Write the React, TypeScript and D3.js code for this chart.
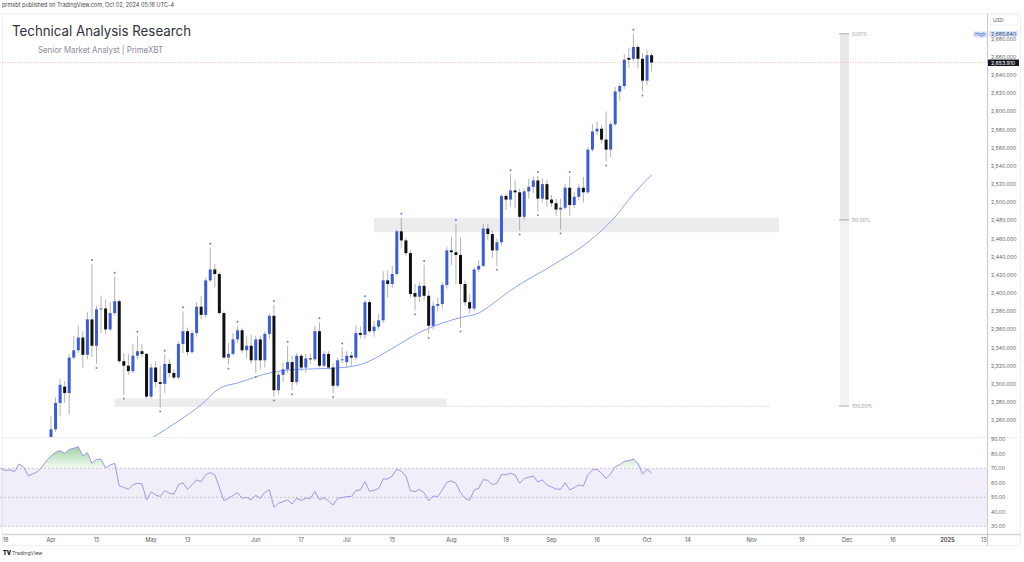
import React from "react";
import * as d3 from "d3";

// ---------- DATA (XAUUSD daily) ----------
const FIRST_CANDLE = "2024-04-01";
const opens = [2233,2250,2279,2297,2290,2329,2337,2351,2332,2371,2342,2382,2383,2360,2378,2391,2325,2320,2314,2331,2336,2333,2286,2318,2302,2300,2322,2312,2307,2344,2358,2335,2356,2385,2376,2414,2426,2421,2378,2329,2333,2349,2359,2337,2342,2326,2349,2326,2355,2375,2293,2310,2316,2324,2302,2331,2318,2328,2327,2358,2320,2333,2318,2298,2326,2324,2331,2329,2356,2354,2390,2358,2363,2370,2414,2410,2421,2468,2458,2444,2400,2396,2408,2397,2364,2386,2388,2409,2447,2445,2442,2410,2390,2383,2426,2430,2471,2465,2447,2456,2507,2503,2513,2511,2484,2512,2517,2524,2504,2520,2503,2499,2492,2494,2516,2497,2506,2516,2511,2558,2578,2581,2569,2558,2586,2622,2628,2659,2658,2671,2658,2634,2662];
const highs = [2265,2285,2305,2303,2333,2353,2364,2358,2379,2432,2386,2397,2393,2390,2418,2393,2334,2333,2344,2353,2344,2334,2322,2325,2320,2332,2327,2316,2347,2380,2362,2359,2390,2397,2417,2450,2432,2423,2380,2345,2356,2364,2362,2352,2354,2353,2353,2358,2378,2387,2313,2323,2342,2331,2334,2333,2333,2333,2364,2368,2336,2336,2323,2329,2340,2336,2335,2364,2363,2392,2393,2369,2377,2424,2425,2430,2470,2483,2461,2447,2410,2412,2431,2403,2391,2395,2412,2451,2462,2476,2461,2414,2399,2428,2436,2476,2476,2469,2460,2509,2510,2531,2524,2515,2515,2526,2528,2529,2526,2525,2508,2504,2504,2520,2529,2511,2520,2528,2561,2586,2589,2585,2600,2589,2627,2631,2663,2670,2685.64,2673,2664,2668,2664];
const lows = [2228,2247,2265,2279,2266,2327,2334,2318,2327,2330,2322,2356,2355,2358,2375,2323,2288,2310,2312,2327,2329,2284,2284,2296,2274,2290,2307,2305,2305,2334,2331,2333,2352,2371,2373,2412,2406,2376,2327,2321,2331,2345,2334,2328,2322,2312,2316,2318,2350,2286,2289,2302,2312,2293,2299,2314,2312,2322,2325,2318,2318,2316,2290,2296,2323,2318,2320,2326,2350,2350,2356,2352,2360,2367,2395,2406,2419,2450,2441,2395,2381,2390,2392,2355,2360,2380,2383,2405,2431,2410,2362,2386,2378,2380,2423,2428,2458,2439,2430,2452,2492,2495,2493,2469,2480,2504,2510,2490,2500,2495,2495,2485,2470,2492,2485,2494,2502,2500,2509,2556,2574,2565,2545,2550,2584,2612,2625,2648,2655,2648,2622,2629,2644];
const closes = [2250,2279,2299,2290,2329,2337,2351,2332,2371,2342,2382,2383,2360,2378,2391,2325,2320,2314,2331,2336,2333,2286,2318,2302,2300,2322,2312,2307,2344,2358,2335,2356,2385,2376,2414,2426,2421,2378,2329,2333,2349,2359,2337,2342,2326,2349,2326,2355,2375,2293,2310,2316,2324,2302,2331,2318,2328,2327,2358,2320,2333,2318,2298,2326,2327,2331,2329,2356,2354,2390,2358,2363,2370,2414,2410,2421,2468,2458,2444,2399,2396,2408,2397,2364,2386,2388,2409,2447,2445,2442,2410,2390,2383,2426,2430,2471,2465,2447,2456,2507,2503,2513,2511,2484,2512,2517,2524,2504,2520,2503,2499,2492,2494,2516,2497,2506,2516,2511,2558,2578,2581,2569,2558,2586,2622,2628,2657,2657,2671,2658,2634,2662,2653.91];

// swing markers (candle index from FIRST_CANDLE)
const highMarks = [9,14,19,25,29,35,41,49,52,59,64,69,77,82,89,101,107,114,128];
const lowMarks = [10,16,24,39,45,49,53,62,80,83,90,98,103,107,112,122,130];

// moving average, read at candle indices
const maIdx = [22,28,33,37,41,48,54,61,67,76,80,86,90,94,97,101,110,118,124,128,132];
const maVal = [2240,2259,2277,2295,2301,2312,2316,2317,2320,2342,2354,2367,2373,2378,2388,2403,2430,2456,2484,2509,2530];

// RSI, one value per trading day starting here
const RSI_START = "2024-03-15";
const rsi = [70.0,68.4,68.9,67.7,73.0,70.7,64.9,66.1,67.5,70.7,75.3,
78.5,81.0,82.2,80.3,82.9,83.8,84.9,78.5,80.8,73.4,76.2,76.2,70.2,72.3,73.4,57.8,56.9,55.5,58.5,59.7,59.2,48.2,53.7,51.6,50.5,54.6,52.8,52.1,58.5,60.1,55.5,58.7,62.0,60.8,65.6,67.0,65.6,56.9,47.7,49.3,51.4,53.2,49.3,50.0,48.2,51.4,49.3,53.4,55.1,43.1,45.9,47.0,48.2,45.4,49.3,47.9,49.3,49.3,54.1,48.2,49.8,47.5,44.7,49.3,49.8,50.5,50.5,54.6,55.1,60.8,54.1,54.8,56.0,62.6,62.6,64.7,69.5,67.9,64.7,54.6,53.9,55.5,53.2,47.5,50.9,50.5,55.1,60.3,61.3,59.7,53.2,49.3,47.9,55.1,56.2,62.2,61.7,58.7,59.7,65.6,65.6,66.5,65.4,59.7,62.9,63.8,64.7,60.6,62.0,58.5,57.1,55.7,55.5,60.1,55.1,56.7,58.5,57.8,65.4,68.9,69.3,66.6,62.9,66.1,71.1,72.5,74.8,75.3,76.4,73.4,65.9,69.5,66.6];

// zones & fib
const zoneTop = { from: 71, to: 160, hi: 2483, lo: 2467 };
const zoneLow = { from: 14, to: 87, hi: 2284, lo: 2275.5 };
const fibHigh = 2685.64;
const fibLow = 2275.5;
const fibLevels = [0, 0.5, 1];
const fibLabels = ["0.00%", "50.00%", "100.00%"];

// axis ticks
const priceTicks = d3.range(2260, 2681, 20);
const rsiTicks = [90, 80, 70, 60, 50, 40, 30];
const timeTicks: [string, string][] = [
  ["2024-03-18", "18"], ["2024-04-01", "Apr"], ["2024-04-15", "15"], ["2024-05-01", "May"],
  ["2024-05-13", "13"], ["2024-06-03", "Jun"], ["2024-06-17", "17"], ["2024-07-01", "Jul"],
  ["2024-07-15", "15"], ["2024-08-01", "Aug"], ["2024-08-19", "19"], ["2024-09-02", "Sep"],
  ["2024-09-16", "16"], ["2024-10-01", "Oct"], ["2024-10-14", "14"], ["2024-11-01", "Nov"],
  ["2024-11-18", "18"], ["2024-12-02", "Dec"], ["2024-12-16", "16"], ["2025-01-01", "2025"],
  ["2025-01-13", "13"],
];

// ---------- helpers ----------
const parse = d3.timeParse("%Y-%m-%d");
const START = parse(FIRST_CANDLE) as Date;
function wdIndex(s: string): number {
  const d = parse(s) as Date;
  const a = d < START ? d : START;
  const b = d < START ? START : d;
  const n = d3.timeDay.range(a, b).filter((x) => x.getDay() !== 0 && x.getDay() !== 6).length;
  return d < START ? -n : n;
}

const W = 1024, H = 562;
const AXIS_X = 987;
const PANE_TOP = 14, PANE_BOT = 437;
const RSI_BOT = 534;

const x = d3.scaleLinear().domain([0, 132]).range([51, 51 + 132 * 4.55]);
const y = d3.scaleLinear().domain([2260, 2660]).range([420.2, 57]);
const yr = d3.scaleLinear().domain([30, 90]).range([526.3, 439.3]);

const fmt = d3.format(",.3f");
const FONT = "Inter, 'Liberation Sans', sans-serif";

export default function App() {
  const bw = 3;
  const rsiStart = wdIndex(RSI_START);
  const rsiPts = rsi.map((v, k) => [rsiStart + k, v] as [number, number]);
  const rsiLine = d3.line<[number, number]>().x((d) => x(d[0])).y((d) => yr(d[1]))(rsiPts) || "";
  const obArea = d3
    .area<[number, number]>()
    .x((d) => x(d[0]))
    .y0(yr(70))
    .y1((d) => yr(Math.max(70, d[1])))(rsiPts) || "";
  const maPts = maIdx.map((i, k) => [i, maVal[k]] as [number, number]);
  const maPath = d3.line<[number, number]>().x((d) => x(d[0])).y((d) => y(d[1])).curve(d3.curveMonotoneX)(maPts) || "";
  const curY = y(closes[closes.length - 1]);

  return (
    <svg width={W} height={H} style={{ position: "absolute", left: 0, top: 0, background: "#fff", fontFamily: FONT }}>
      <defs>
        <clipPath id="pane">
          <rect x={0} y={PANE_TOP} width={AXIS_X} height={PANE_BOT - PANE_TOP} />
        </clipPath>
        <linearGradient id="ob" x1="0" y1="0" x2="0" y2="1">
          <stop offset="0%" stopColor="#4caf50" stopOpacity={0.55} />
          <stop offset="100%" stopColor="#4caf50" stopOpacity={0.05} />
        </linearGradient>
        <clipPath id="obclip">
          <rect x={0} y={yr(90) - 5} width={AXIS_X} height={yr(70) - yr(90) + 5} />
        </clipPath>
      </defs>
      <rect x={0} y={0} width={W} height={H} fill="#fff" />
      <text x={2} y={7} fontSize={5.5} fill="#444">prmxbt published on TradingView.com, Oct 02, 2024 05:16 UTC-4</text>

      {/* frame */}
      <rect x={2.5} y={13.5} width={1018} height={532} fill="none" stroke="#eef0f3" />
      <line x1={2} x2={1021} y1={PANE_BOT + 0.5} y2={PANE_BOT + 0.5} stroke="#eef0f3" />
      <line x1={2} x2={1021} y1={RSI_BOT + 0.5} y2={RSI_BOT + 0.5} stroke="#d6d8dd" strokeWidth={1.5} />
      <line x1={AXIS_X + 0.5} x2={AXIS_X + 0.5} y1={PANE_TOP} y2={546} stroke="#c8cad0" />

      {/* header */}
      <text x={12} y={36} fontSize={14} fill="#2f323a" textLength={179} lengthAdjust="spacingAndGlyphs">Technical Analysis Research</text>
      <text x={38} y={52.5} fontSize={8.5} fill="#8a8e99" textLength={125} lengthAdjust="spacingAndGlyphs">Senior Market Analyst | PrimeXBT</text>

      <g clipPath="url(#pane)">
        {/* zones */}
        <rect x={x(zoneTop.from)} y={y(zoneTop.hi)} width={x(zoneTop.to) - x(zoneTop.from)} height={y(zoneTop.lo) - y(zoneTop.hi)} fill="#ececee" />
        <line x1={x(zoneLow.from)} x2={770} y1={y(fibLow)} y2={y(fibLow)} stroke="#d6d6d9" strokeDasharray="1.5,1" />
        <rect x={x(zoneLow.from)} y={y(zoneLow.hi)} width={x(zoneLow.to) - x(zoneLow.from)} height={y(zoneLow.lo) - y(zoneLow.hi)} fill="#ececee" />

        {/* fib band */}
        <rect x={840} y={y(fibHigh)} width={9} height={y(fibHigh + (fibLow - fibHigh) * 0.5) - y(fibHigh)} fill="#e8e8ea" />
        <rect x={840} y={y(fibHigh + (fibLow - fibHigh) * 0.5)} width={9} height={y(fibLow) - y(fibHigh + (fibLow - fibHigh) * 0.5)} fill="#f2f2f5" />
        {fibLevels.map((f, k) => {
          const yy = y(fibHigh + (fibLow - fibHigh) * f);
          return (
            <g key={k}>
              <line x1={839} x2={849} y1={yy} y2={yy} stroke="#9b9b9b" strokeWidth={0.8} />
              <text x={852} y={yy + 2} fontSize={5} fill="#9a9a9a">{fibLabels[k]}</text>
            </g>
          );
        })}

        {/* current price line */}
        <line x1={0} x2={AXIS_X} y1={curY} y2={curY} stroke="#f5a3a3" strokeWidth={0.7} strokeDasharray="1,1.5" />

        {/* MA */}
        <path d={maPath} fill="none" stroke="#8aa3f3" strokeWidth={1} />

        {/* candles */}
        {closes.map((c, i) => {
          const o = opens[i];
          const up = c >= o;
          const top = y(Math.max(o, c));
          const bot = y(Math.min(o, c));
          return (
            <g key={i}>
              <line x1={x(i)} x2={x(i)} y1={y(highs[i])} y2={y(lows[i])} stroke="#a0a0a0" strokeWidth={0.8} />
              <rect x={x(i) - bw / 2} y={top} width={bw} height={Math.max(0.8, bot - top)} fill={up ? "#3b5bdb" : "#111111"} />
            </g>
          );
        })}
        {highMarks.map((i) => (
          <circle key={"h" + i} cx={x(i)} cy={y(highs[i]) - 4} r={1} fill="#5b7be8" />
        ))}
        {lowMarks.map((i) => (
          <circle key={"l" + i} cx={x(i)} cy={y(lows[i]) + 4} r={1} fill="#8a8a8a" />
        ))}
      </g>

      {/* RSI pane */}
      <rect x={0} y={yr(70)} width={AXIS_X} height={yr(30) - yr(70)} fill="#7e57c2" fillOpacity={0.1} />
      {[70, 50, 30].map((v) => (
        <line key={v} x1={0} x2={AXIS_X} y1={yr(v)} y2={yr(v)} stroke="#b2b5be" strokeWidth={0.7} strokeDasharray="2,2" />
      ))}
      <path d={obArea} fill="url(#ob)" clipPath="url(#obclip)" />
      <path d={rsiLine} fill="none" stroke="#a394e6" strokeWidth={1} />

      {/* right axis */}
      <rect x={990} y={15} width={28} height={10} fill="#fff" stroke="#e3e5ea" strokeWidth={0.6} rx={1} />
      <text x={993} y={22} fontSize={5} fill="#555">USD</text>
      {priceTicks.map((p) => (
        <text key={p} x={991} y={y(p) + 2} fontSize={5.2} fill="#666">{fmt(p)}</text>
      ))}
      <rect x={973} y={31.5} width={14} height={6} fill="#dbe5fb" />
      <text x={975} y={36.2} fontSize={4.8} fill="#3d5fc9">High</text>
      <rect x={989} y={y(fibHigh) - 3} width={29} height={6} fill="#dbe5fb" />
      <text x={991} y={y(fibHigh) + 2} fontSize={5.2} fill="#2d3f80">{fmt(fibHigh)}</text>
      <rect x={988} y={curY - 3} width={31} height={6.5} fill="#131722" />
      <text x={991} y={curY + 2} fontSize={5.2} fill="#fff">{fmt(closes[closes.length - 1])}</text>
      {rsiTicks.map((v) => (
        <text key={v} x={991} y={yr(v) + 2} fontSize={5.2} fill="#666">{d3.format(".2f")(v)}</text>
      ))}

      {/* time axis */}
      {timeTicks.map(([d, lab]) => {
        const xx = x(wdIndex(d));
        if (xx > AXIS_X) return null;
        return (
          <text key={d} x={xx} y={542} fontSize={5.5} fill="#555" textAnchor="middle" fontWeight={lab === "2025" ? 700 : 400}>{lab}</text>
        );
      })}

      {/* logo */}
      <text x={3} y={555} fontSize={5.5} fill="#131722" fontWeight={900}>TV</text>
      <text x={12} y={555} fontSize={5.2} fill="#444">TradingView</text>
    </svg>
  );
}
